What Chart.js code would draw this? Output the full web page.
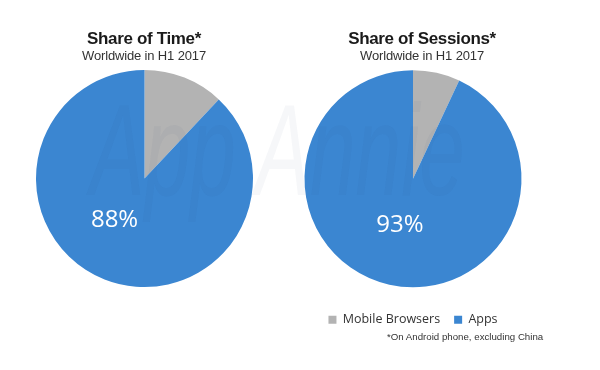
<!DOCTYPE html>
<html>
<head>
<meta charset="utf-8">
<script src="https://cdn.jsdelivr.net/npm/chart.js@4/dist/chart.umd.min.js"></script>
<style>
  body { margin: 0; background: #fff; }
  #wrap { position: relative; width: 600px; height: 370px; overflow: hidden; }
  canvas { position: absolute; top: 0; }
  .title { position: absolute; width: 290px; text-align: center; color: #1a1a1a;
           font: bold 17px "Liberation Sans", Arial, sans-serif; line-height: 20px; letter-spacing: -0.35px; }
  .sub { position: absolute; width: 290px; text-align: center; color: #333;
         font: 13px "Liberation Sans", Arial, sans-serif; line-height: 16px; letter-spacing: -0.15px; }
  #note { position: absolute; left: 387px; top: 331px; color: #333;
          font: 9.7px "Liberation Sans", Arial, sans-serif; line-height: 12px; white-space: nowrap; }
  #mark { position: absolute; left: 90px; top: 70px; color: rgba(50, 70, 110, 0.045);
          font: italic 130px "Liberation Sans", Arial, sans-serif; line-height: 160px; white-space: nowrap;
          transform: scaleX(0.63); transform-origin: 0 0; pointer-events: none; }
</style>
</head>
<body>
<div id="wrap">
  <canvas id="timeChart" width="289" height="370" style="left:0px"></canvas>
  <canvas id="sessionChart" width="290" height="370" style="left:268px"></canvas>
  <div class="title" style="left:-1px; top:29px">Share of Time*</div>
  <div class="sub" style="left:-1px; top:48px">Worldwide in H1 2017</div>
  <div class="title" style="left:277px; top:29px">Share of Sessions*</div>
  <div class="sub" style="left:277px; top:48px">Worldwide in H1 2017</div>
  <div id="note">*On Android phone, excluding China</div>
  <div id="mark">App Annie</div>
</div>
<script>
const categories = ['Mobile Browsers', 'Apps'];
const timeShare = [12, 88];
const sessionShare = [7, 93];
const colors = ['#b3b3b3', '#3b86d1'];

// white percentage label on the Apps slice, placed relative to the pie radius
const pctLabel = {
    id: 'pctLabel',
    afterDatasetsDraw(chart, args, opts) {
        const arc = chart.getDatasetMeta(0).data[1];
        const value = chart.data.datasets[0].data[1];
        const ctx = chart.ctx;
        ctx.save();
        ctx.fillStyle = '#fff';
        ctx.font = '24px "Open Sans", sans-serif';
        ctx.textAlign = 'center';
        ctx.textBaseline = 'alphabetic';
        ctx.fillText(value + '%', arc.x + opts.dx * arc.outerRadius, arc.y + opts.dy * arc.outerRadius);
        ctx.restore();
    }
};

function makePie(el, values, showLegend, padBottom, labelPos) {
    return new Chart(document.getElementById(el), {
        type: 'pie',
        data: {
            labels: categories,
            datasets: [{
                data: values,
                backgroundColor: colors,
                borderWidth: 0,
                radius: 108.5
            }]
        },
        options: {
            responsive: false,
            animation: false,
            devicePixelRatio: 1,
            layout: { padding: { top: 58, bottom: padBottom, left: 0, right: 0 } },
            plugins: {
                tooltip: { enabled: false },
                legend: {
                    display: showLegend,
                    position: 'bottom',
                    labels: {
                        boxWidth: 8,
                        boxHeight: 8,
                        padding: 14,
                        color: '#333',
                        font: { family: '"Open Sans", sans-serif', size: 12.5 }
                    }
                },
                pctLabel: labelPos
            }
        },
        plugins: [pctLabel]
    });
}

makePie('timeChart', timeShare, false, 71, { dx: -0.276, dy: 0.445 });
makePie('sessionChart', sessionShare, true, 34, { dx: -0.12, dy: 0.495 });
</script>
</body>
</html>
